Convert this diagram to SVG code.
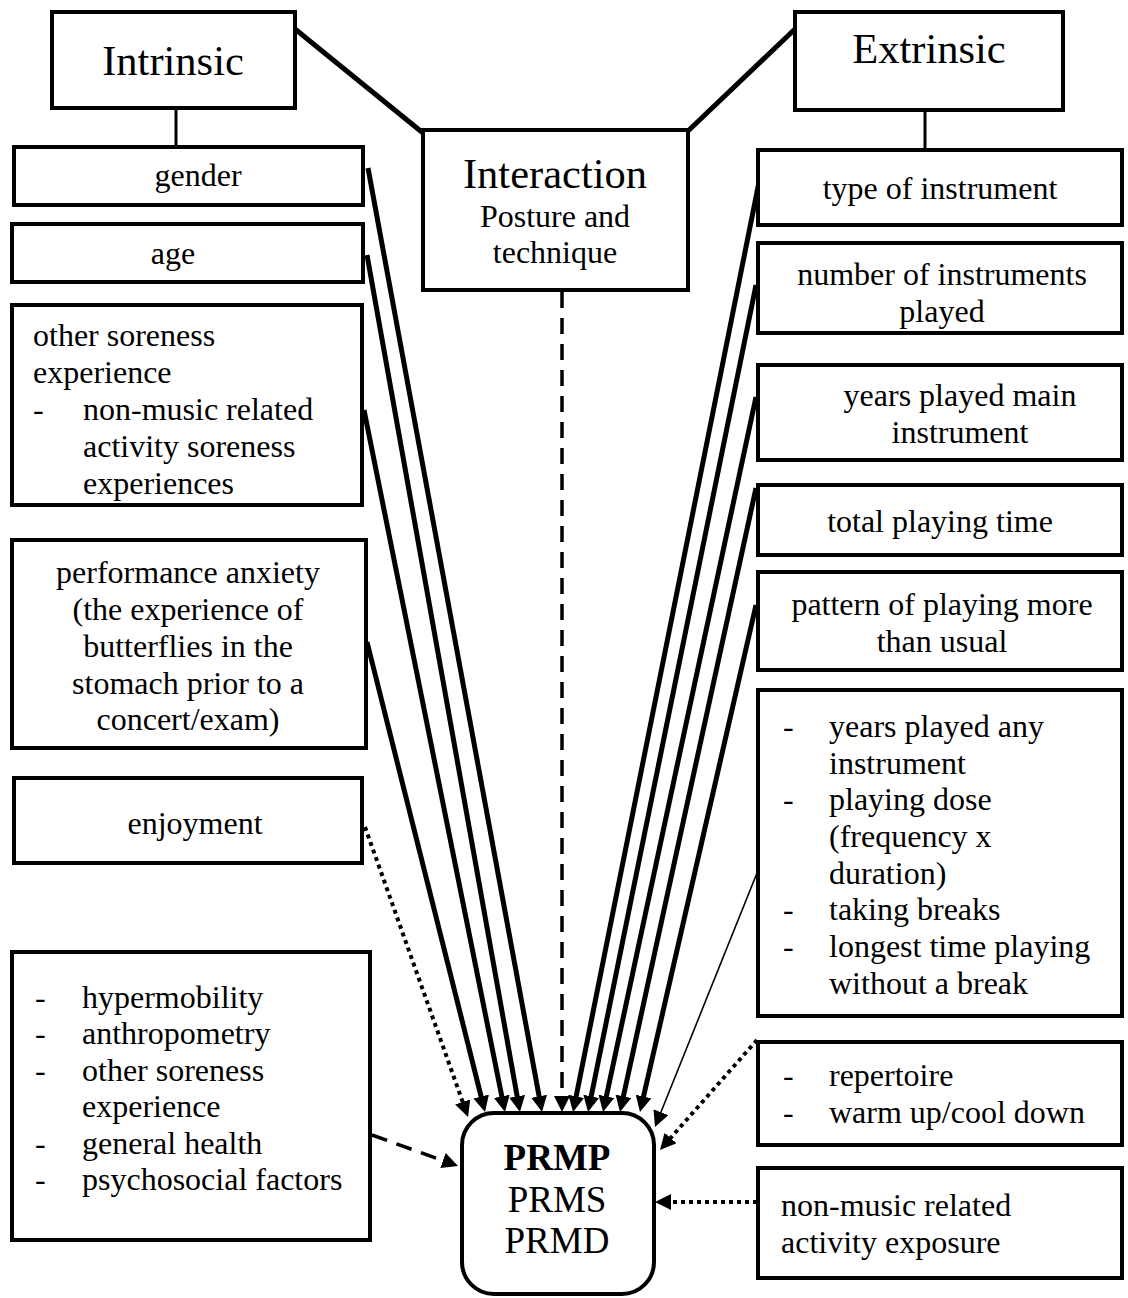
<svg xmlns="http://www.w3.org/2000/svg" width="1128" height="1298" viewBox="0 0 1128 1298">
<style>
.box{fill:#fff;stroke:#000;stroke-width:4}
.t{font-family:"Liberation Serif","Times New Roman",serif;font-size:32px;fill:#000}
.c{text-anchor:middle}
.big{font-size:42.5px}
.prm{font-size:37px}
.link{stroke:#000;stroke-width:3;fill:none}
.thick{stroke:#000;stroke-width:5;fill:none}
.thin{stroke:#000;stroke-width:1.6;fill:none}
.dash{stroke:#000;stroke-width:3.5;fill:none;stroke-dasharray:16 10}
.dot{stroke:#000;stroke-width:4;fill:none;stroke-dasharray:4 4}
</style>
<defs>
<marker id="ah" viewBox="0 0 16 16" markerUnits="userSpaceOnUse" markerWidth="16" markerHeight="16" refX="6" refY="8" orient="auto">
<path d="M0,0 L16,8 L0,16 z" fill="#000"/>
</marker>
<clipPath id="clipNum"><rect x="760" y="245" width="360" height="86"/></clipPath>
<clipPath id="clipSore"><rect x="14" y="307" width="347" height="196"/></clipPath>
</defs>

<g id="connectors">
<line class="link" x1="176" y1="108" x2="176" y2="147"/>
<line class="link" x1="925" y1="110" x2="925" y2="150"/>
<line class="thick" x1="295" y1="29" x2="423" y2="133"/>
<line class="thick" x1="795" y1="29" x2="688" y2="131"/>
<line class="thick" x1="368" y1="168" x2="540.2" y2="1102.2" marker-end="url(#ah)"/>
<line class="thick" x1="367" y1="255" x2="518.2" y2="1102.2" marker-end="url(#ah)"/>
<line class="thick" x1="364" y1="410" x2="503" y2="1102.2" marker-end="url(#ah)"/>
<line class="thick" x1="367" y1="642" x2="482.6" y2="1102.3" marker-end="url(#ah)"/>
<line class="dot" x1="365" y1="827" x2="464.7" y2="1107.6" marker-end="url(#ah)"/>
<line class="dash" x1="562" y1="292" x2="562" y2="1102" marker-end="url(#ah)"/>
<line class="thick" x1="760" y1="177" x2="575" y2="1102.2" marker-end="url(#ah)"/>
<line class="thick" x1="756" y1="285" x2="590" y2="1102.2" marker-end="url(#ah)"/>
<line class="thick" x1="756" y1="397" x2="605.1" y2="1102.2" marker-end="url(#ah)"/>
<line class="thick" x1="756" y1="488" x2="622.1" y2="1102.2" marker-end="url(#ah)"/>
<line class="thick" x1="756" y1="605" x2="642.2" y2="1102.3" marker-end="url(#ah)"/>
<line class="thin" x1="757" y1="873" x2="658.7" y2="1117.7" marker-end="url(#ah)"/>
<line class="dot" x1="757" y1="1040" x2="666.6" y2="1142.5" marker-end="url(#ah)"/>
<line class="dot" x1="757" y1="1202" x2="665" y2="1202" marker-end="url(#ah)"/>
<line class="dash" x1="372" y1="1135" x2="448.6" y2="1162.6" marker-end="url(#ah)"/>
</g>

<g id="intrinsic">
<rect class="box" x="52" y="12" width="243" height="96"/>
<text class="t c big" x="173" y="75">Intrinsic</text>
</g>
<g id="extrinsic">
<rect class="box" x="795" y="12" width="268" height="98"/>
<text class="t c big" x="929" y="63">Extrinsic</text>
</g>
<g id="interaction">
<rect class="box" x="423" y="130" width="265" height="160"/>
<text class="t c big" x="555" y="188">Interaction</text>
<text class="t c" x="555" y="227">Posture and</text>
<text class="t c" x="555" y="263">technique</text>
</g>

<g id="gender">
<rect class="box" x="14" y="147" width="349" height="58"/>
<text class="t c" x="198" y="186">gender</text>
</g>
<g id="age">
<rect class="box" x="12" y="224" width="351" height="58"/>
<text class="t c" x="173" y="264">age</text>
</g>
<g id="other-soreness">
<rect class="box" x="12" y="305" width="350" height="200"/>
<g clip-path="url(#clipSore)">
<text class="t" x="33" y="346">other soreness</text>
<text class="t" x="33" y="383">experience</text>
<text class="t" x="33" y="420">-</text>
<text class="t" x="83" y="420">non-music related</text>
<text class="t" x="83" y="457">activity soreness</text>
<text class="t" x="83" y="494">experiences</text>
</g>
</g>
<g id="performance-anxiety">
<rect class="box" x="12" y="540" width="354" height="208"/>
<text class="t c" x="188" y="583">performance anxiety</text>
<text class="t c" x="188" y="620">(the experience of</text>
<text class="t c" x="188" y="657">butterflies in the</text>
<text class="t c" x="188" y="694">stomach prior to a</text>
<text class="t c" x="188" y="730">concert/exam)</text>
</g>
<g id="enjoyment">
<rect class="box" x="14" y="778" width="348" height="85"/>
<text class="t c" x="195" y="834">enjoyment</text>
</g>
<g id="physical-factors">
<rect class="box" x="12" y="952" width="358" height="288"/>
<text class="t" x="35" y="1008">-</text><text class="t" x="82" y="1008">hypermobility</text>
<text class="t" x="35" y="1044">-</text><text class="t" x="82" y="1044">anthropometry</text>
<text class="t" x="35" y="1081">-</text><text class="t" x="82" y="1081">other soreness</text>
<text class="t" x="82" y="1117">experience</text>
<text class="t" x="35" y="1154">-</text><text class="t" x="82" y="1154">general health</text>
<text class="t" x="35" y="1190">-</text><text class="t" x="82" y="1190">psychosocial factors</text>
</g>

<g id="type-of-instrument">
<rect class="box" x="758" y="150" width="364" height="75"/>
<text class="t c" x="940" y="199">type of instrument</text>
</g>
<g id="number-of-instruments">
<rect class="box" x="758" y="243" width="364" height="90"/>
<g clip-path="url(#clipNum)">
<text class="t c" x="942" y="285">number of instruments</text>
<text class="t c" x="942" y="322">played</text>
</g>
</g>
<g id="years-main">
<rect class="box" x="758" y="365" width="364" height="95"/>
<text class="t c" x="960" y="406">years played main</text>
<text class="t c" x="960" y="443">instrument</text>
</g>
<g id="total-playing-time">
<rect class="box" x="758" y="485" width="364" height="70"/>
<text class="t c" x="940" y="532">total playing time</text>
</g>
<g id="pattern">
<rect class="box" x="758" y="572" width="364" height="98"/>
<text class="t c" x="942" y="615">pattern of playing more</text>
<text class="t c" x="942" y="652">than usual</text>
</g>
<g id="playing-list">
<rect class="box" x="758" y="690" width="364" height="326"/>
<text class="t" x="783" y="737">-</text><text class="t" x="829" y="737">years played any</text>
<text class="t" x="829" y="774">instrument</text>
<text class="t" x="783" y="810">-</text><text class="t" x="829" y="810">playing dose</text>
<text class="t" x="829" y="847">(frequency x</text>
<text class="t" x="829" y="884">duration)</text>
<text class="t" x="783" y="920">-</text><text class="t" x="829" y="920">taking breaks</text>
<text class="t" x="783" y="957">-</text><text class="t" x="829" y="957">longest time playing</text>
<text class="t" x="829" y="994">without a break</text>
</g>
<g id="repertoire">
<rect class="box" x="758" y="1042" width="364" height="103"/>
<text class="t" x="783" y="1086">-</text><text class="t" x="829" y="1086">repertoire</text>
<text class="t" x="783" y="1123">-</text><text class="t" x="829" y="1123">warm up/cool down</text>
</g>
<g id="non-music-exposure">
<rect class="box" x="758" y="1168" width="364" height="110"/>
<text class="t" x="781" y="1216">non-music related</text>
<text class="t" x="781" y="1253">activity exposure</text>
</g>

<g id="prmp">
<rect class="box" x="462" y="1113" width="192" height="181" rx="32" ry="32"/>
<text class="t c prm" x="557" y="1170" font-weight="bold">PRMP</text>
<text class="t c prm" x="557" y="1212">PRMS</text>
<text class="t c prm" x="557" y="1253">PRMD</text>
</g>
</svg>
